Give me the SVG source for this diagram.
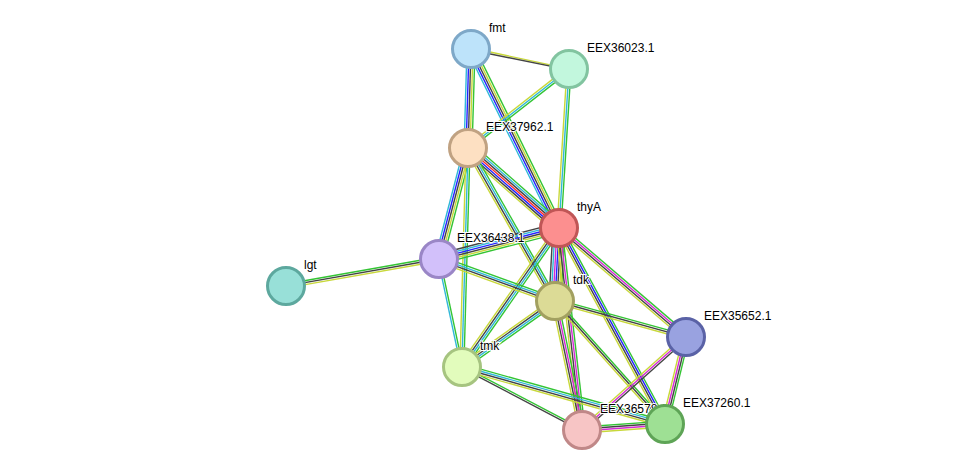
<svg xmlns="http://www.w3.org/2000/svg" width="976" height="476" viewBox="0 0 976 476">
<style>
line{stroke-width:1.4;fill:none}
.g{stroke:#33c433}.y{stroke:#c8d83a}.k{stroke:#444}.b{stroke:#2323ff}.c{stroke:#30b8d8}.m{stroke:#d42ad4}.r{stroke:#ff2a2a}
circle{stroke-width:3}
text{font-family:"Liberation Sans",Arial,sans-serif;font-size:12px;fill:#000;paint-order:stroke;stroke:#fff;stroke-width:2px}
</style>
<rect width="976" height="476" fill="#fff"/>
<g id="connectors">
<g transform="translate(471,49) rotate(11.5)"><line class="y" x2="100" y1="-1"/><line class="k" x2="100" y1="1" y2="1"/></g>
<g transform="translate(471,49) rotate(91.7)"><line class="g" x2="99" y1="-4" y2="-4"/><line class="y" x2="99" y1="-2" y2="-2"/><line class="k" x2="99"/><line class="b" x2="99" y1="2" y2="2"/><line class="c" x2="99" y1="4" y2="4"/></g>
<g transform="translate(471,49) rotate(63.8)"><line class="g" x2="200" y1="-4" y2="-4"/><line class="y" x2="200" y1="-2" y2="-2"/><line class="k" x2="200"/><line class="b" x2="200" y1="2" y2="2"/><line class="c" x2="200" y1="4" y2="4"/></g>
<g transform="translate(569,69) rotate(142)"><line class="g" x2="128" y1="-2" y2="-2"/><line class="c" x2="128"/><line class="y" x2="128" y1="2" y2="2"/></g>
<g transform="translate(569,69) rotate(93.6)"><line class="g" x2="159" y1="-2" y2="-2"/><line class="c" x2="159"/><line class="y" x2="159" y1="2" y2="2"/></g>
<g transform="translate(468,148) rotate(41.3)"><line class="g" x2="121" y1="-6" y2="-6"/><line class="c" x2="121" y1="-4" y2="-4"/><line class="k" x2="121" y1="-2" y2="-2"/><line class="r" x2="121"/><line class="b" x2="121" y1="2" y2="2"/><line class="k" x2="121" y1="4" y2="4"/><line class="y" x2="121" y1="6" y2="6"/></g>
<g transform="translate(468,148) rotate(104.6)"><line class="g" x2="115" y1="-4" y2="-4"/><line class="y" x2="115" y1="-2" y2="-2"/><line class="k" x2="115"/><line class="b" x2="115" y1="2" y2="2"/><line class="c" x2="115" y1="4" y2="4"/></g>
<g transform="translate(468,148) rotate(60.4)"><line class="g" x2="176" y1="-3" y2="-3"/><line class="c" x2="176" y1="-1" y2="-1"/><line class="k" x2="176" y1="1" y2="1"/><line class="y" x2="176" y1="3" y2="3"/></g>
<g transform="translate(468,148) rotate(91.6)"><line class="g" x2="219" y1="-2" y2="-2"/><line class="c" x2="219"/><line class="y" x2="219" y1="2" y2="2"/></g>
<g transform="translate(559,228) rotate(165.5)"><line class="g" x2="124" y1="-5" y2="-5"/><line class="y" x2="124" y1="-3" y2="-3"/><line class="k" x2="124" y1="-1" y2="-1"/><line class="b" x2="124" y1="1" y2="1"/><line class="c" x2="124" y1="3" y2="3"/><line class="k" x2="124" y1="5" y2="5"/></g>
<g transform="translate(559,228) rotate(93.1)"><line class="g" x2="73" y1="-6" y2="-6"/><line class="y" x2="73" y1="-4" y2="-4"/><line class="k" x2="73" y1="-2" y2="-2"/><line class="b" x2="73"/><line class="m" x2="73" y1="2" y2="2"/><line class="c" x2="73" y1="4" y2="4"/><line class="k" x2="73" y1="6" y2="6"/></g>
<g transform="translate(559,228) rotate(124.9)"><line class="g" x2="170" y1="-3" y2="-3"/><line class="c" x2="170" y1="-1" y2="-1"/><line class="k" x2="170" y1="1" y2="1"/><line class="y" x2="170" y1="3" y2="3"/></g>
<g transform="translate(559,228) rotate(40.6)"><line class="g" x2="167" y1="-3" y2="-3"/><line class="m" x2="167" y1="-1" y2="-1"/><line class="k" x2="167" y1="1" y2="1"/><line class="y" x2="167" y1="3" y2="3"/></g>
<g transform="translate(559,228) rotate(61.6)"><line class="g" x2="223" y1="-3" y2="-3"/><line class="b" x2="223" y1="-1" y2="-1"/><line class="k" x2="223" y1="1" y2="1"/><line class="y" x2="223" y1="3" y2="3"/></g>
<g transform="translate(559,228) rotate(83.5)"><line class="g" x2="203" y1="-3" y2="-3"/><line class="m" x2="203" y1="-1" y2="-1"/><line class="k" x2="203" y1="1" y2="1"/><line class="y" x2="203" y1="3" y2="3"/></g>
<g transform="translate(439,259) rotate(170)"><line class="y" x2="155" y1="-2" y2="-2"/><line class="k" x2="155"/><line class="g" x2="155" y1="2" y2="2"/></g>
<g transform="translate(439,259) rotate(19.9)"><line class="g" x2="123" y1="-3" y2="-3"/><line class="c" x2="123" y1="-1" y2="-1"/><line class="k" x2="123" y1="1" y2="1"/><line class="y" x2="123" y1="3" y2="3"/></g>
<g transform="translate(439,259) rotate(78)"><line class="g" x2="110" y1="-1" y2="-1"/><line class="c" x2="110" y1="1" y2="1"/></g>
<g transform="translate(555,301) rotate(144.6)"><line class="g" x2="114" y1="-3" y2="-3"/><line class="c" x2="114" y1="-1" y2="-1"/><line class="k" x2="114" y1="1" y2="1"/><line class="y" x2="114" y1="3" y2="3"/></g>
<g transform="translate(555,301) rotate(15.4)"><line class="g" x2="136" y1="-2" y2="-2"/><line class="k" x2="136"/><line class="y" x2="136" y1="2" y2="2"/></g>
<g transform="translate(555,301) rotate(78.2)"><line class="g" x2="132" y1="-3" y2="-3"/><line class="m" x2="132" y1="-1" y2="-1"/><line class="k" x2="132" y1="1" y2="1"/><line class="y" x2="132" y1="3" y2="3"/></g>
<g transform="translate(555,301) rotate(48.2)"><line class="g" x2="165" y1="-2" y2="-2"/><line class="k" x2="165"/><line class="y" x2="165" y1="2" y2="2"/></g>
<g transform="translate(462,367) rotate(27.7)"><line class="g" x2="135" y1="-1" y2="-1"/><line class="k" x2="135" y1="1" y2="1"/></g>
<g transform="translate(462,367) rotate(15.7)"><line class="g" x2="211" y1="-3" y2="-3"/><line class="c" x2="211" y1="-1" y2="-1"/><line class="k" x2="211" y1="1" y2="1"/><line class="y" x2="211" y1="3" y2="3"/></g>
<g transform="translate(686,337) rotate(138.2)"><line class="k" x2="140" y1="-2" y2="-2"/><line class="m" x2="140"/><line class="y" x2="140" y1="2" y2="2"/></g>
<g transform="translate(686,337) rotate(103.6)"><line class="g" x2="90" y1="-3" y2="-3"/><line class="k" x2="90" y1="-1" y2="-1"/><line class="m" x2="90" y1="1" y2="1"/><line class="y" x2="90" y1="3" y2="3"/></g>
<g transform="translate(582,430) rotate(-4.1)"><line class="g" x2="83" y1="-3" y2="-3"/><line class="k" x2="83" y1="-1" y2="-1"/><line class="m" x2="83" y1="1" y2="1"/><line class="y" x2="83" y1="3" y2="3"/></g>
</g>
<g id="fmt"><circle cx="471" cy="49" r="18.5" fill="#bde3fa" stroke="#7ea8c8"/><text x="489" y="32">fmt</text></g>
<g id="EEX36023.1"><circle cx="569" cy="69" r="18.5" fill="#c2f7dd" stroke="#82c4a0"/><text x="587" y="52">EEX36023.1</text></g>
<g id="EEX37962.1"><circle cx="468" cy="148" r="18.5" fill="#fde0c2" stroke="#c0a282"/><text x="486" y="131">EEX37962.1</text></g>
<g id="thyA"><circle cx="559" cy="228" r="18.5" fill="#fc8f8f" stroke="#c05656"/><text x="577" y="211">thyA</text></g>
<g id="EEX36438.1"><circle cx="439" cy="259" r="18.5" fill="#d2c0fa" stroke="#9a86c6"/><text x="457" y="242">EEX36438.1</text></g>
<g id="lgt"><circle cx="286" cy="286" r="18.5" fill="#98e0d8" stroke="#5da89e"/><text x="304" y="269">lgt</text></g>
<g id="tdk"><circle cx="555" cy="301" r="18.5" fill="#dcdb96" stroke="#a2a060"/><text x="573" y="284">tdk</text></g>
<g id="EEX35652.1"><circle cx="686" cy="337" r="18.5" fill="#99a2e0" stroke="#5a62a6"/><text x="704" y="320">EEX35652.1</text></g>
<g id="tmk"><circle cx="462" cy="367" r="18.5" fill="#e2fcbc" stroke="#a6c480"/><text x="480" y="350">tmk</text></g>
<g id="EEX36578.1"><circle cx="582" cy="430" r="18.5" fill="#f7c5c5" stroke="#c08888"/><text x="600" y="413">EEX36578.1</text></g>
<g id="EEX37260.1"><circle cx="665" cy="424" r="18.5" fill="#9ee094" stroke="#5ea456"/><text x="683" y="407">EEX37260.1</text></g>
</svg>
